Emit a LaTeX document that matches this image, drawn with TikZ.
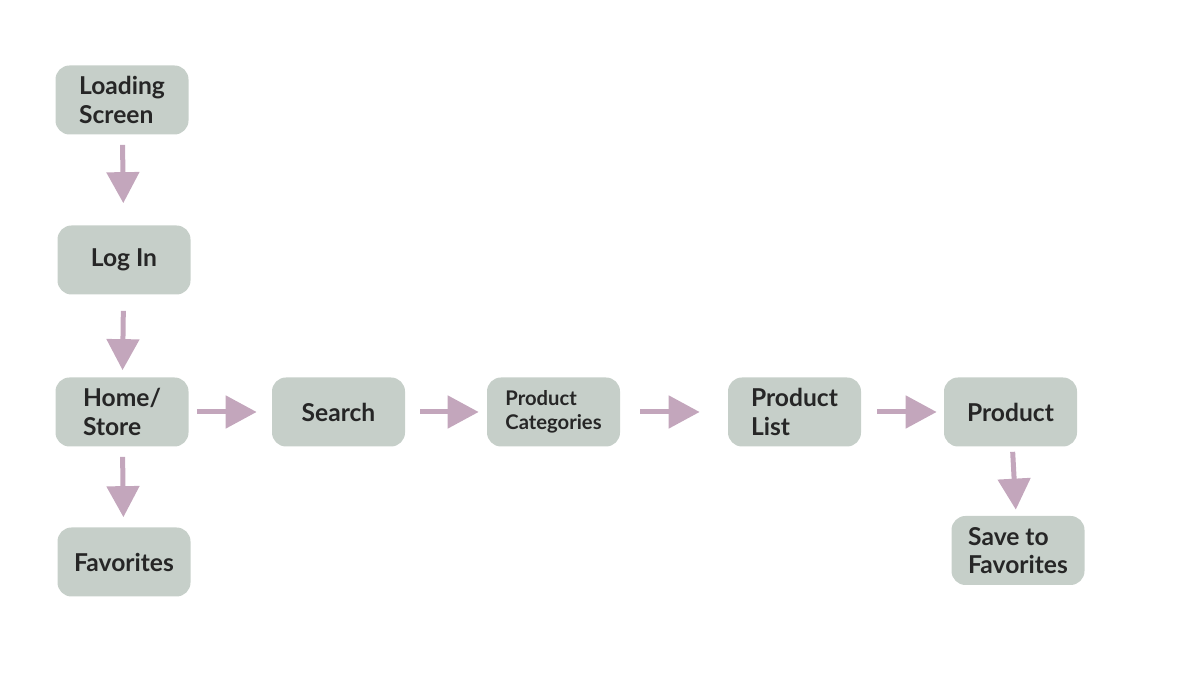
\documentclass[tikz,border=0pt]{standalone}
\usepackage{fontspec}
\setmainfont{Lato}
\usepackage{tikz}
\usetikzlibrary{arrows.meta}
\definecolor{boxfill}{HTML}{C6CFC9}
\definecolor{flowcol}{HTML}{C3A6BC}
\definecolor{boxtext}{HTML}{262626}
\tikzset{>={Triangle[width=0.64cm, length=0.62cm]}}

\begin{document}
\begin{tikzpicture}[
    screen/.style={fill=boxfill, rounded corners=0.28cm, minimum width=2.66cm, minimum height=1.38cm,
        align=left, text=boxtext, font=\bfseries\fontsize{14}{16}\selectfont},
    flow/.style={->, draw=flowcol, line width=0.1cm, shorten <=0.2cm, shorten >=0.2cm}]
    \useasboundingbox (0, 0) rectangle (24, 13.46);
    \node[screen] (loading) at (2.44, 11.46) {Loading\\Screen};
    \node[screen] (login) at (2.48, 8.26) {Log In};
    \node[screen] (home) at (2.44, 5.22) {Home/\\Store};
    \node[screen] (fav) at (2.48, 2.22) {Favorites};
    \node[screen] (search) at (6.77, 5.22) {Search};
    \node[screen, font=\bfseries\fontsize{11.5}{13.7}\selectfont] (cats) at (11.07, 5.22) {Product\\Categories};
    \node[screen] (list) at (15.89, 5.22) {Product\\List};
    \node[screen] (product) at (20.21, 5.22) {Product};
    \node[screen] (save) at (20.36, 2.45) {Save to\\Favorites};
    \draw[flow, shorten >=0.44cm] (loading) -- (login);
    \draw[flow, shorten <=0.32cm, shorten >=0.14cm] (login) -- (home);
    \draw[flow] (home) -- (fav);
    \draw[flow, shorten <=0.16cm, shorten >=0.3cm] (home) -- (search);
    \draw[flow, shorten <=0.3cm, shorten >=0.16cm] (search) -- (cats);
    \draw[flow, shorten <=0.4cm, shorten >=0.56cm] (cats) -- (list);
    \draw[flow, shorten <=0.32cm, shorten >=0.14cm] (list) -- (product);
    \draw[flow, shorten <=0.1cm, shorten >=0.12cm] (product) -- (save);
\end{tikzpicture}
\end{document}
